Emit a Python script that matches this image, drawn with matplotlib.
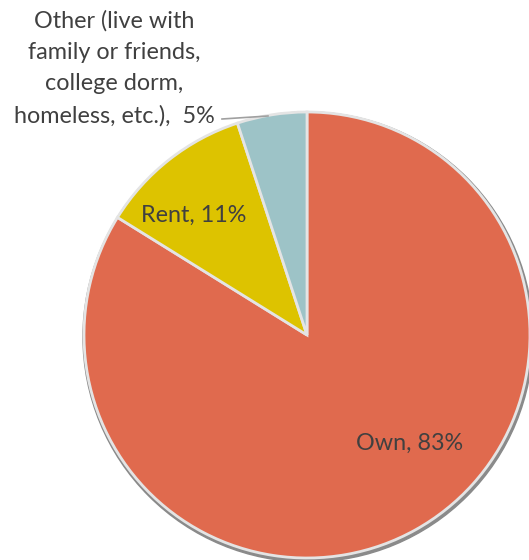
import matplotlib
matplotlib.use("Agg")
import matplotlib.pyplot as plt

labels = ["Own", "Rent", "Other (live with\nfamily or friends,\ncollege dorm,\nhomeless, etc.)"]
values = [83, 11, 5]
colors = ["#E06A4E", "#DDC300", "#9DC3C7"]

plt.rcParams['font.family'] = ['Lato', 'DejaVu Sans']

fig = plt.figure(figsize=(5.29, 5.6), dpi=100)
ax = fig.add_axes([0, 0, 1, 1])
ax.set_xlim(0, 529)
ax.set_ylim(0, 560)
ax.set_aspect('equal')
ax.axis('off')

cx, cy, r = 307, 560 - 335, 223
# outer rim shadow
rim = plt.Circle((cx + 1, cy - 2), r + 2, color="#8a8a8a", zorder=0)
ax.add_patch(rim)
wedges, _ = ax.pie(values, colors=colors, startangle=90, counterclock=False,
                   center=(cx, cy), radius=r, normalize=True,
                   wedgeprops=dict(edgecolor="#e4e4e4", linewidth=2.0))
ax.set_xlim(0, 529)
ax.set_ylim(0, 560)

txtc = "#404040"
fs = 16.8
ax.text(410, 560 - 443, f"{labels[0]}, {values[0]}%", ha="center", va="center",
        fontsize=fs, color=txtc)
ax.text(194, 560 - 215, f"{labels[1]}, {values[1]}%", ha="center", va="center",
        fontsize=fs, color=txtc)
ax.text(114, 560 - 68.5, f"{labels[2]},  {values[2]}%", ha="center", va="center",
        fontsize=fs, color=txtc, linespacing=1.6)
ax.plot([222, 268], [560 - 119, 560 - 116], color="#a0a0a0", lw=1.2)

fig.savefig("out.png", dpi=100)
